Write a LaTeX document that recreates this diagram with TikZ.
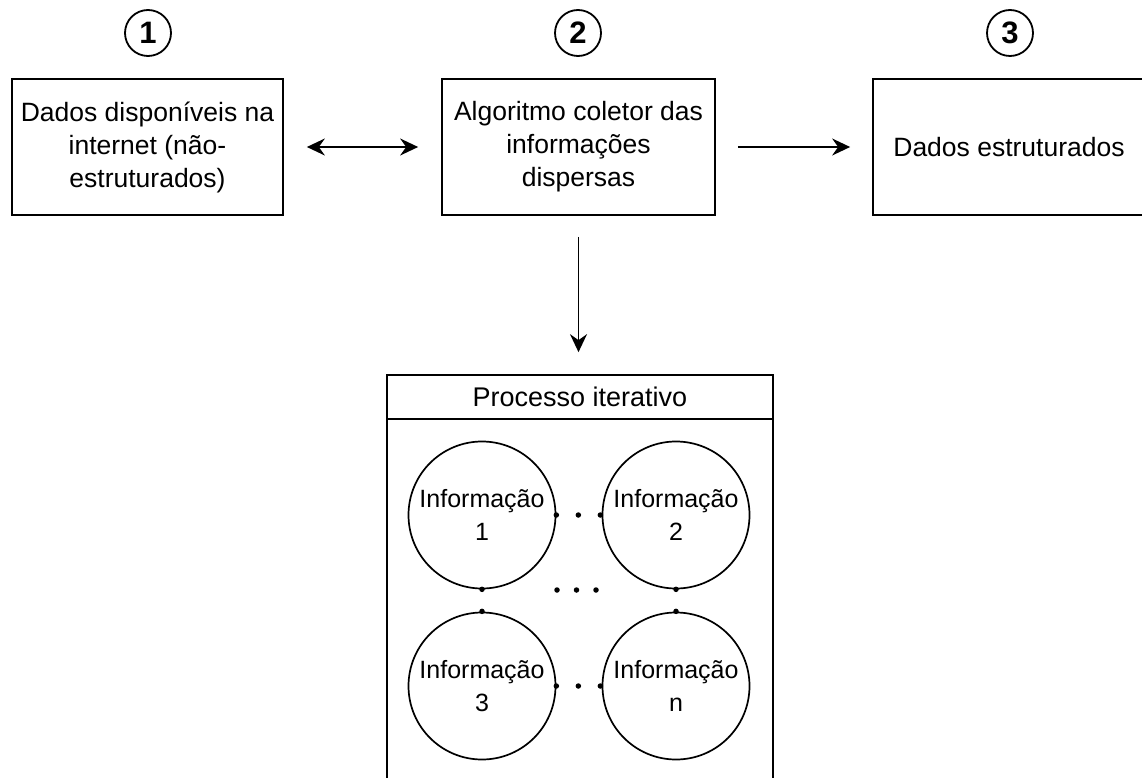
\documentclass[tikz,border=0pt]{standalone}
\usepackage{fontspec}
\setmainfont{Liberation Sans}
\usetikzlibrary{arrows.meta}
\begin{document}
\begin{tikzpicture}[x=1pt,y=-1pt,
  box/.style={draw, line width=1.7pt, minimum height=136pt, inner sep=0pt, align=center, font=\fontsize{26.5}{33}\selectfont},
  num/.style={draw, circle, line width=1.8pt, minimum size=46pt, inner sep=0pt, font=\fontsize{31}{31}\selectfont\bfseries},
  info/.style={draw, circle, line width=1.7pt, minimum size=147pt, inner sep=0pt, align=center, font=\fontsize{25}{33}\selectfont},
  tip/.style={Stealth[length=18pt,width=17pt,inset=6pt]},
  arr/.style={line width=1.8pt, -{Stealth[length=18pt,width=17pt,inset=6pt]}},
  dotline/.style={line width=5.5pt, line cap=round, dash pattern=on 0pt off 22pt},
  middots/.style={line width=5.5pt, line cap=round, dash pattern=on 0pt off 19.5pt}
]
\useasboundingbox (0,0) rectangle (1142,778);

% circled numbers
\node[num] (n1) at (148,33) {1};
\node[num] (n2) at (578,33) {2};
\node[num] (n3) at (1010,33) {3};

% top boxes
\node[box, minimum width=271pt] (b1) at (147.5,147) {Dados disponíveis na\\internet (não-\\estruturados)};
\node[box, minimum width=273pt] (b2) at (578.5,147) {Algoritmo coletor das\\informações\\dispersas};
\node[box, minimum width=272pt] (b3) at (1009,147) {Dados estruturados};

% process container
\node[draw, line width=1.7pt, minimum width=386pt, minimum height=435pt, inner sep=0pt] (proc) at (580,592.5) {};
\draw[line width=1.7pt] ([yshift=-45pt]proc.north west) -- ([yshift=-45pt]proc.north east);
\node[font=\fontsize{27}{33}\selectfont] (title) at (580,397) {Processo iterativo};

% connectors
\draw[line width=1.8pt, {Stealth[length=18pt,width=17pt,inset=6pt]}-{Stealth[length=18pt,width=17pt,inset=6pt]}, shorten <=23pt, shorten >=23pt] (b1) -- (b2);
\draw[arr, shorten <=22pt, shorten >=22pt] (b2) -- (b3);
\draw[arr, shorten <=21pt, shorten >=22pt] (b2.south) -- (proc.north -| b2.south);

% information circles
\node[info] (i1) at (482,515) {Informação\\1};
\node[info] (i2) at (676,515) {Informação\\2};
\node[info] (i3) at (482,686) {Informação\\3};
\node[info] (in) at (676,686) {Informação\\n};

\draw[dotline] (i1) -- (i2);
\draw[dotline] (i3) -- (in);
\draw[dotline] (i1) -- (i3);
\draw[dotline] (i2) -- (in);

\coordinate (m1) at (557,590);
\coordinate (m2) at (597,590);
\draw[middots] (m1) -- (m2);
\end{tikzpicture}
\end{document}
